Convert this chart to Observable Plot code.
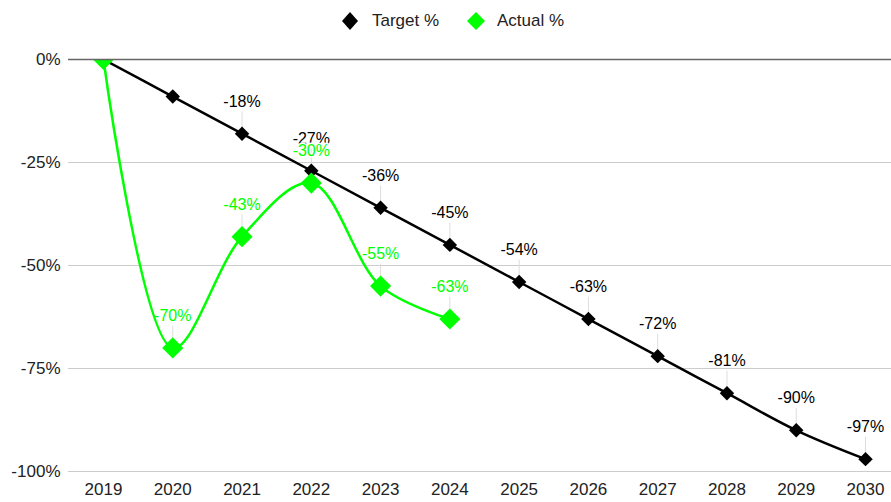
<!DOCTYPE html>
<html>
<head>
<meta charset="utf-8">
<script src="https://cdn.jsdelivr.net/npm/d3@7"></script>
<script src="https://cdn.jsdelivr.net/npm/@observablehq/plot@0.6"></script>
<style>
  html, body { margin: 0; padding: 0; background: #fff; }
  body { width: 891px; height: 502px; overflow: hidden; font-family: "Liberation Sans", Arial, sans-serif; }
  #legend { position: relative; height: 40px; font-size: 17px; color: #222; }
  .item { position: absolute; top: 11px; display: flex; align-items: center; height: 20px; }
  .item svg { margin-right: 14px; }
</style>
</head>
<body>
<div id="legend"></div>
<div id="chart"></div>
<script>
const years = [2019, 2020, 2021, 2022, 2023, 2024, 2025, 2026, 2027, 2028, 2029, 2030];
const target = [0, -9, -18, -27, -36, -45, -54, -63, -72, -81, -90, -97];
const actualYears = [2019, 2020, 2021, 2022, 2023, 2024];
const actual = [0, -70, -43, -30, -55, -63];
const yTicks = [0, -25, -50, -75, -100];
const seriesNames = ["Target %", "Actual %"];
const seriesColors = ["#000000", "#00ff00"];
const targetLabelYears = [2021, 2022, 2023, 2024, 2025, 2026, 2027, 2028, 2029, 2030];
const actualLabelYears = [2020, 2021, 2022, 2023, 2024];

const tData = years.map((y, i) => ({year: y, v: target[i]}));
const aData = actualYears.map((y, i) => ({year: y, v: actual[i]}));
const tLab = tData.filter(d => targetLabelYears.includes(d.year));
const aLab = aData.filter(d => actualLabelYears.includes(d.year));
const pct = v => `${v}%`;

// legend
const legend = document.getElementById("legend");
const legendLeft = [342, 467];
const legendSize = [[16, 18], [18, 18]];
seriesNames.forEach((name, i) => {
  const it = document.createElement("div");
  it.className = "item";
  it.style.left = legendLeft[i] + "px";
  const [w, h] = legendSize[i];
  it.innerHTML = `<svg width="${w}" height="${h}"><polygon points="${w/2},0 ${w},${h/2} ${w/2},${h} 0,${h/2}" fill="${seriesColors[i]}"/></svg><span>${name}</span>`;
  if (i === 1) it.querySelector("svg").style.marginRight = "12px";
  legend.appendChild(it);
});

const leader = 5.3; // leader line length in percentage points
const font = "'Liberation Sans', Arial, sans-serif";
const chart = Plot.plot({
  width: 891,
  height: 462,
  marginTop: 19,
  marginBottom: 31,
  marginLeft: 68,
  marginRight: 0,
  style: {fontFamily: font, fontSize: "17px", color: "#222", background: "#fff"},
  x: {type: "linear", domain: [2018.495, 2030.375]},
  y: {domain: [-100, 0]},
  marks: [
    Plot.ruleY(yTicks.filter(t => t !== 0), {stroke: "#cccccc", strokeWidth: 1}),
    Plot.axisY(yTicks, {tickSize: 0, tickPadding: 8, tickFormat: pct, fontSize: 17, label: null}),
    Plot.axisX(years, {tickSize: 0, tickPadding: 11, tickFormat: d => String(d), fontSize: 17, label: null}),
    Plot.ruleX(tLab, {x: "year", y1: "v", y2: d => d.v + leader, stroke: "#dddddd", strokeWidth: 1}),
    Plot.ruleX(aLab, {x: "year", y1: "v", y2: d => d.v + leader, stroke: "#dddddd", strokeWidth: 1}),
    Plot.text(tLab, {x: "year", y: "v", text: d => pct(d.v), dy: -32, fill: seriesColors[0], fontSize: 16}),
    Plot.text(aLab, {x: "year", y: "v", text: d => pct(d.v), dy: -32, fill: seriesColors[1], fontSize: 16, stroke: "white", strokeWidth: 3, paintOrder: "stroke"}),
    Plot.line(tData, {x: "year", y: "v", stroke: seriesColors[0], strokeWidth: 2.5, curve: "catmull-rom", clip: true}),
    Plot.dot(tData, {x: "year", y: "v", symbol: "diamond2", fill: seriesColors[0], r: 6.5, clip: true}),
    Plot.line(aData, {x: "year", y: "v", stroke: seriesColors[1], strokeWidth: 2.5, curve: "catmull-rom", clip: true}),
    Plot.dot(aData, {x: "year", y: "v", symbol: "diamond2", fill: seriesColors[1], r: 9.5, clip: true}),
    Plot.ruleY([0], {stroke: "#666666", strokeWidth: 1.3})
  ]
});
document.getElementById("chart").appendChild(chart);
</script>
</body>
</html>
